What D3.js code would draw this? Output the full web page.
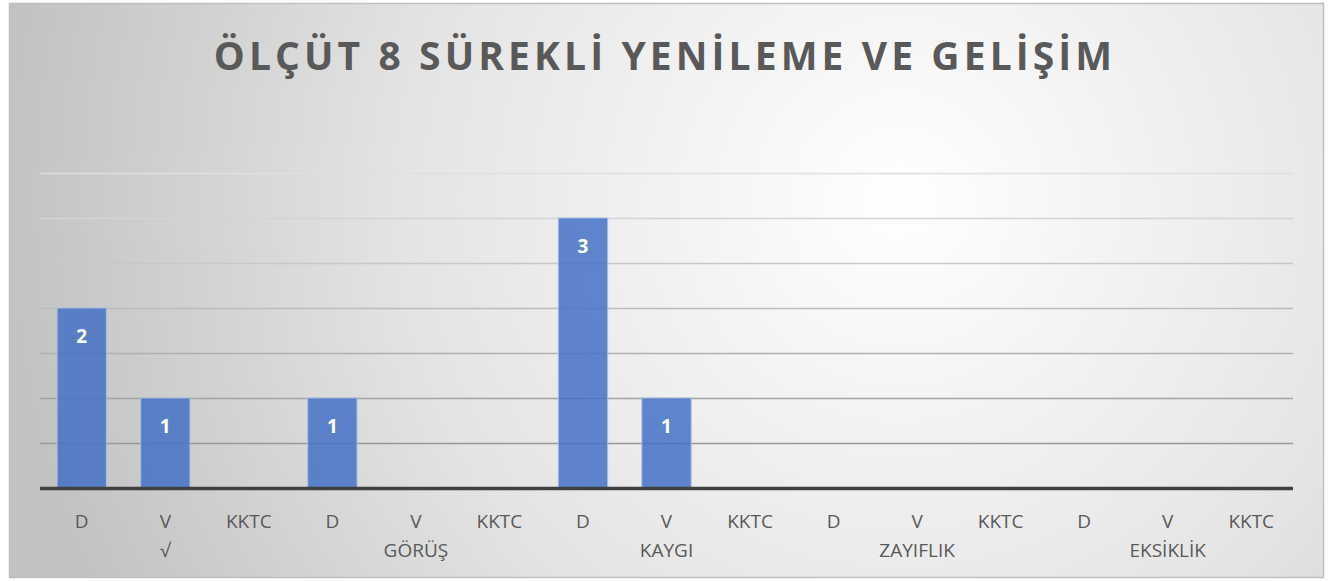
<!DOCTYPE html>
<html><head><meta charset="utf-8">
<script src="https://cdn.jsdelivr.net/npm/d3@7"></script>
<style>body{margin:0;background:#fff}svg{display:block}</style>
</head><body>
<svg id="c" width="1335" height="581"></svg>
<script>
const title = "ÖLÇÜT 8 SÜREKLİ YENİLEME VE GELİŞİM";
const groups = ["√", "GÖRÜŞ", "KAYGI", "ZAYIFLIK", "EKSİKLİK"];
const subCats = ["D", "V", "KKTC"];
const values = [2, 1, 0, 1, 0, 0, 3, 1, 0, 0, 0, 0, 0, 0, 0];
const yTicks = [0, 0.5, 1, 1.5, 2, 2.5, 3, 3.5];

const svg = d3.select("#c");
const defs = svg.append("defs");
const rg = defs.append("radialGradient").attr("id", "bg")
  .attr("gradientUnits", "userSpaceOnUse")
  .attr("cx", 900).attr("cy", 200).attr("r", 900);
rg.append("stop").attr("offset", "0%").attr("stop-color", "#ffffff");
rg.append("stop").attr("offset", "55%").attr("stop-color", "#e4e4e4");
rg.append("stop").attr("offset", "100%").attr("stop-color", "#c2c2c2");

svg.append("rect").attr("x", 9.5).attr("y", 3.5).attr("width", 1314).attr("height", 574)
  .attr("fill", "url(#bg)").attr("stroke", "#bfbfbf").attr("stroke-width", 1.5);

svg.append("text").attr("x", 665).attr("y", 70).attr("text-anchor", "middle")
  .attr("font-family", "Open Sans, sans-serif").attr("font-weight", 700)
  .attr("font-size", 39).attr("letter-spacing", 4.1).attr("fill", "#595959")
  .text(title);

const cats = [];
groups.forEach((g, gi) => subCats.forEach((s, si) => cats.push({id: gi + "-" + si, sub: s, group: g})));

const x = d3.scaleBand().domain(cats.map(c => c.id)).range([40, 1293]).paddingInner(0.41).paddingOuter(0.205);
const y = d3.scaleLinear().domain([0, 3.5]).range([488, 173]);

const gridColor = d3.scaleLinear().domain([0, 3.5]).range(["#8c8c8c", "#e0e0e0"]);
svg.append("g").selectAll("line").data(yTicks.filter(t => t > 0)).join("line")
  .attr("x1", 40).attr("x2", 1293)
  .attr("y1", d => Math.round(y(d)) + 0.5).attr("y2", d => Math.round(y(d)) + 0.5)
  .attr("stroke", d => gridColor(d)).attr("stroke-width", 1.5);

const data = cats.map((c, i) => ({...c, v: values[i]}));
svg.append("g").selectAll("rect").data(data.filter(d => d.v > 0)).join("rect")
  .attr("x", d => x(d.id)).attr("width", x.bandwidth())
  .attr("y", d => y(d.v)).attr("height", d => y(0) - y(d.v))
  .attr("fill", "#4472c4").attr("fill-opacity", 0.85)
  .attr("stroke", "#a9bde3").attr("stroke-width", 1);

svg.append("g").selectAll("text").data(data.filter(d => d.v > 0)).join("text")
  .attr("x", d => x(d.id) + x.bandwidth() / 2).attr("y", d => y(d.v) + 35)
  .attr("text-anchor", "middle").attr("font-family", "Open Sans, sans-serif")
  .attr("font-weight", 700).attr("font-size", 19).attr("fill", "#ffffff")
  .text(d => d.v);

svg.append("line").attr("x1", 40).attr("x2", 1293).attr("y1", y(0) + 0.5).attr("y2", y(0) + 0.5)
  .attr("stroke", "#404040").attr("stroke-width", 3.5);

const lab = svg.append("g").attr("font-family", "Open Sans, sans-serif").attr("font-size", 19).attr("fill", "#595959");
lab.selectAll("text.sub").data(cats).join("text").attr("class", "sub")
  .attr("x", d => x(d.id) + x.bandwidth() / 2).attr("y", 528).attr("text-anchor", "middle")
  .text(d => d.sub);
lab.selectAll("text.grp").data(groups).join("text").attr("class", "grp")
  .attr("x", (d, i) => x(i + "-1") + x.bandwidth() / 2).attr("y", 557).attr("text-anchor", "middle")
  .text(d => d);
</script>
</body></html>
